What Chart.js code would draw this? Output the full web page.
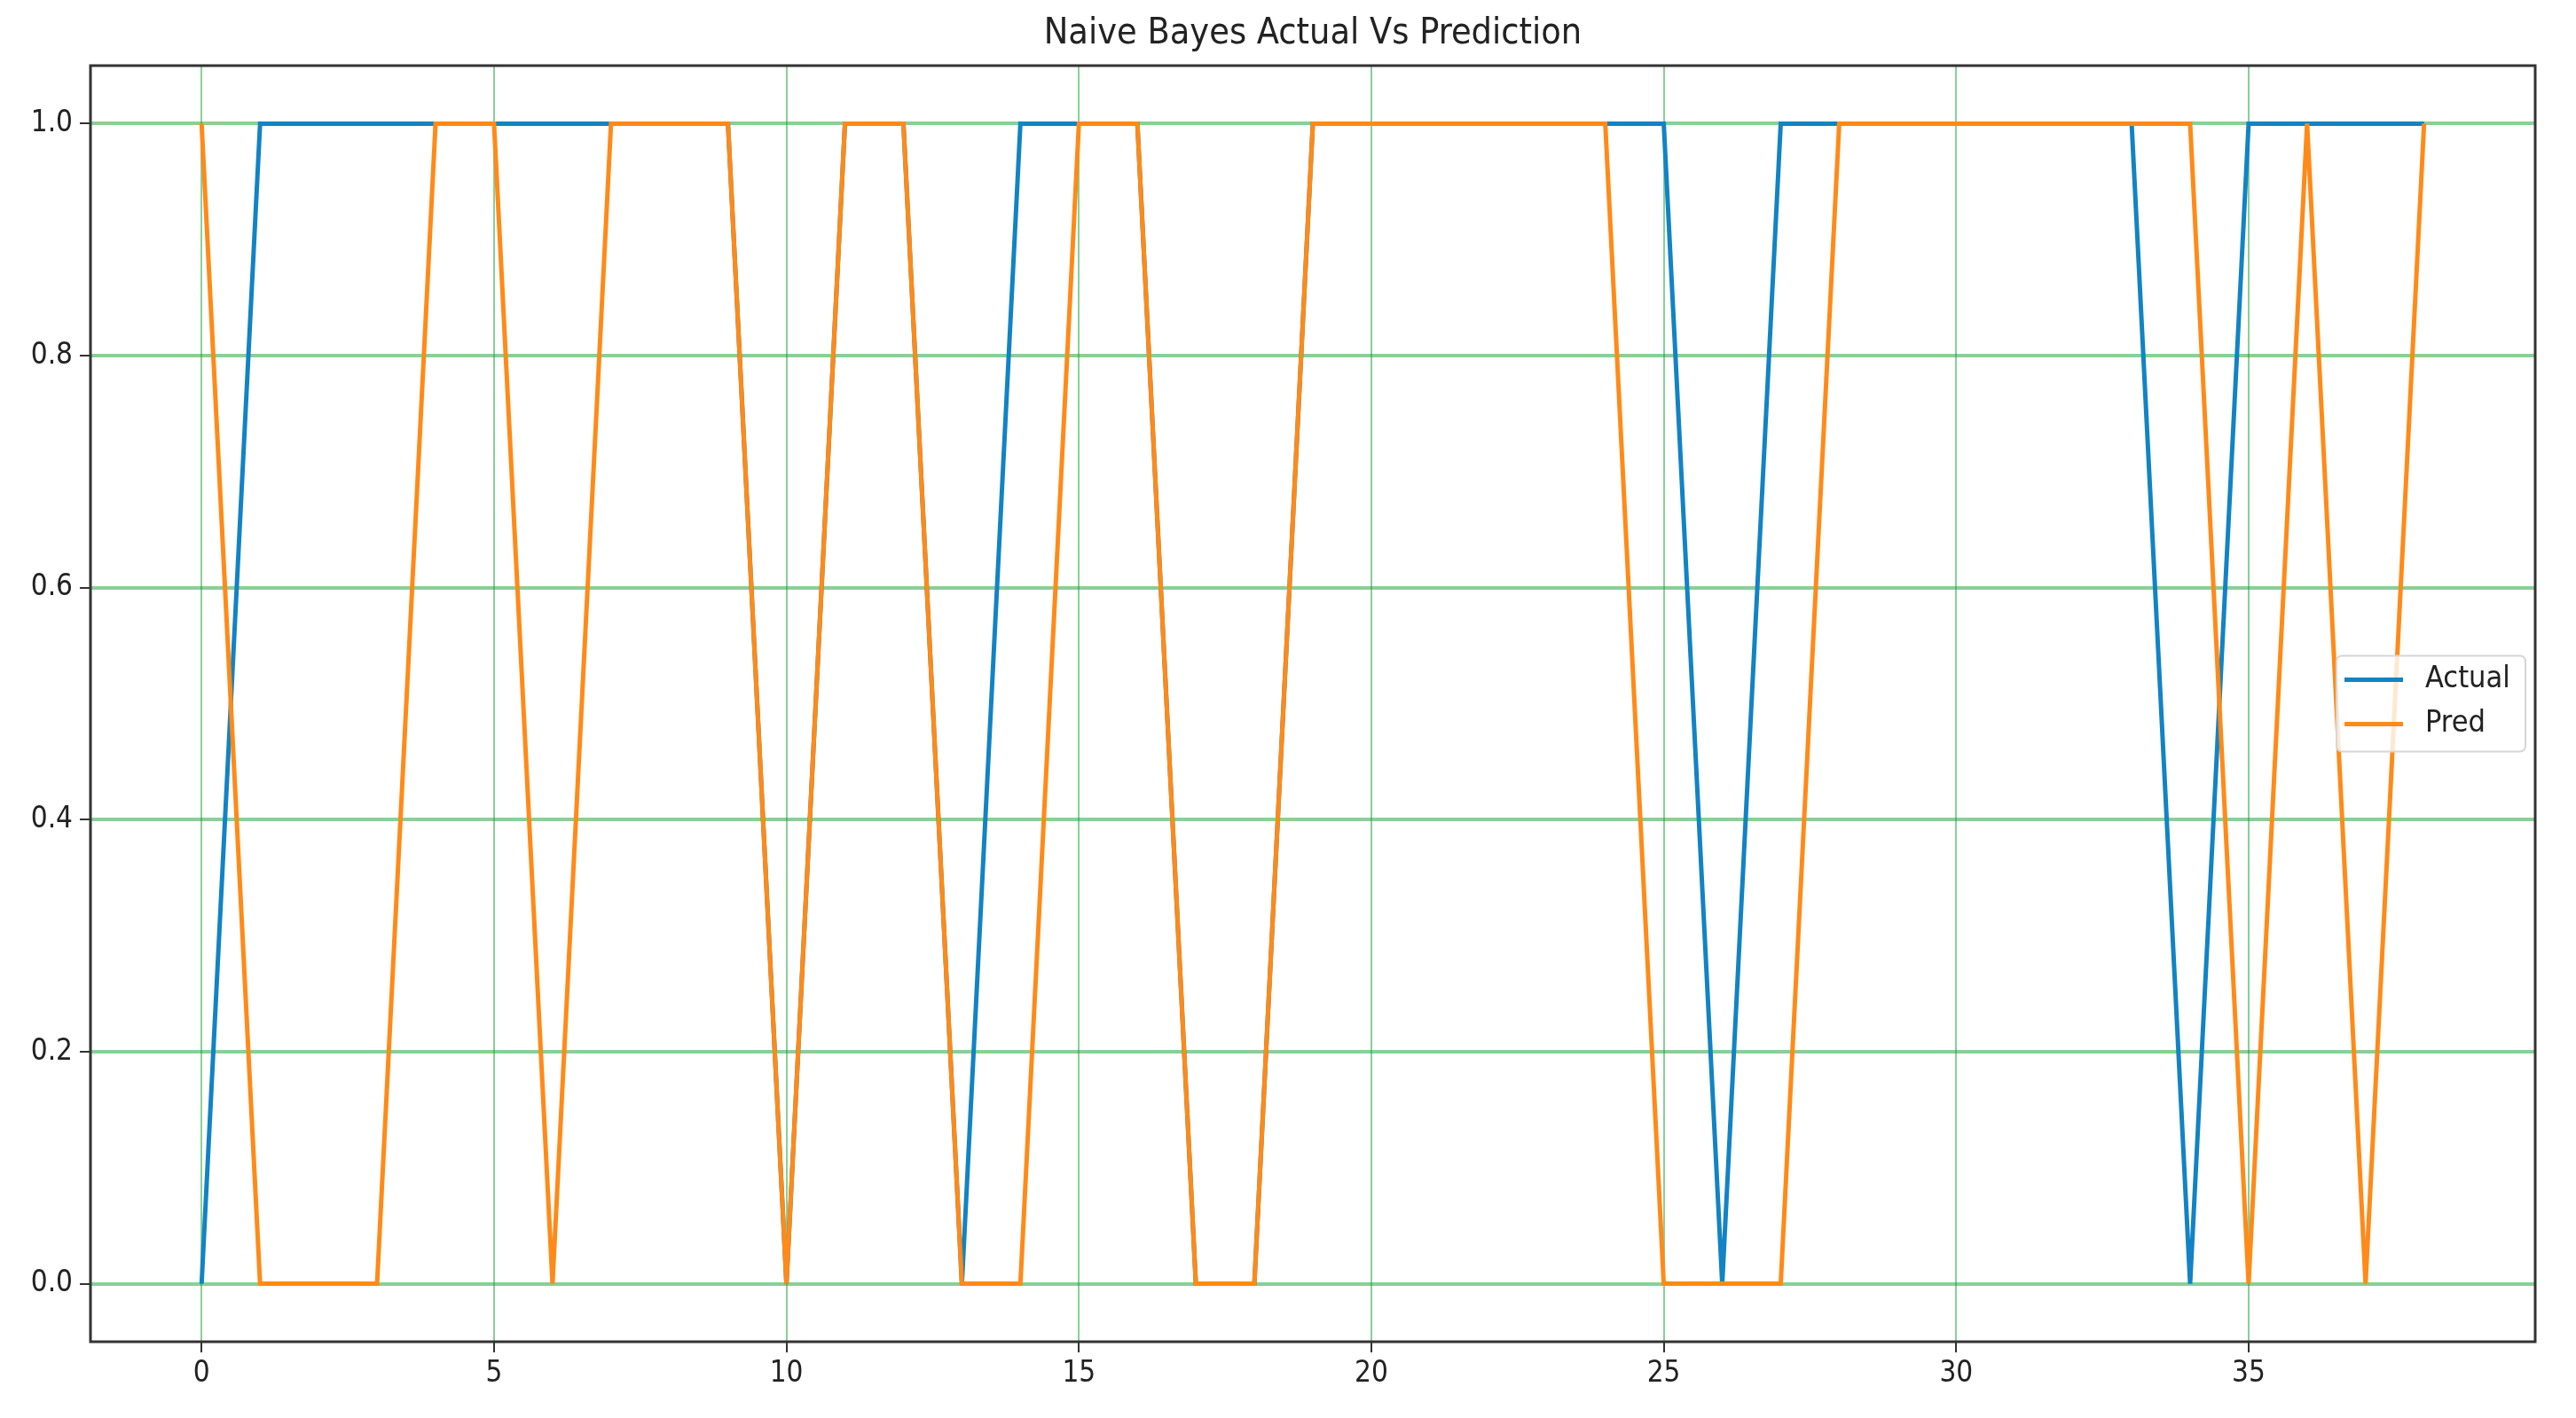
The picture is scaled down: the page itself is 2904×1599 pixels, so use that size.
<!DOCTYPE html>
<html>
<head>
<meta charset="utf-8">
<script src="https://cdn.jsdelivr.net/npm/chart.js@4.4.1/dist/chart.umd.min.js"></script>
<style>
  body { margin: 0; background: #fff; }
  canvas { display: block; }
</style>
</head>
<body>
<canvas id="chart" width="2904" height="1599"></canvas>
<script>
// datos
const indices = Array.from({ length: 39 }, (_, i) => i);
const actual = [0,1,1,1,1,1,1,1,1,1, 0,1,1,0,1,1,1,0,0,1, 1,1,1,1,1,1,0,1,1,1, 1,1,1,1,0,1,1,1,1];
const pred   = [1,0,0,0,1,1,0,1,1,1, 0,1,1,0,0,1,1,0,0,1, 1,1,1,1,1,0,0,0,1,1, 1,1,1,1,1,0,1,0,1];
const xTicks = [0, 5, 10, 15, 20, 25, 30, 35];
const yTicks = [0, 0.2, 0.4, 0.6, 0.8, 1.0];
const seriesNames = ['Actual', 'Pred'];
const titleText = 'Naive Bayes Actual Vs Prediction';

const BLUE = '#1283c4';
const ORANGE = '#ff8a18';
const FONT = "'DejaVu Sans Condensed', 'DejaVu Sans', sans-serif";

// marco del área de trazado (spines) y título centrado sobre el área
const framePlugin = {
    id: 'frame',
    afterDatasetsDraw(chart) {
        const a = chart.chartArea;
        const c = chart.ctx;
        c.save();
        c.strokeStyle = '#333';
        c.lineWidth = 3;
        c.strokeRect(a.left, a.top, a.right - a.left, a.bottom - a.top);
        c.fillStyle = '#222';
        c.font = '41px ' + FONT;
        c.textAlign = 'center';
        c.textBaseline = 'middle';
        c.fillText(titleText, (a.left + a.right) / 2, 38);
        c.restore();
    }
};

// leyenda dentro del gráfico, centro a la derecha
const legendPlugin = {
    id: 'boxLegend',
    afterDraw(chart) {
        const a = chart.chartArea;
        const c = chart.ctx;
        const w = 213, h = 108;
        const x = a.right - 11 - w;
        const y = (a.top + a.bottom) / 2 - h / 2;
        c.save();
        c.fillStyle = 'rgba(255,255,255,0.8)';
        c.strokeStyle = '#d6d6d6';
        c.lineWidth = 2;
        c.beginPath();
        c.roundRect(x, y, w, h, 6);
        c.fill();
        c.stroke();
        const colors = [BLUE, ORANGE];
        c.font = '34px ' + FONT;
        c.textBaseline = 'middle';
        c.fillStyle = '#222';
        seriesNames.forEach((name, i) => {
            const ly = y + 27 + i * 50;
            c.strokeStyle = colors[i];
            c.lineWidth = 5;
            c.beginPath();
            c.moveTo(x + 9, ly);
            c.lineTo(x + 75, ly);
            c.stroke();
            c.fillText(name, x + 100, ly);
        });
        c.restore();
    }
};

const ctx = document.getElementById('chart').getContext('2d');

let chart = new Chart(ctx, {
    type: 'line',
    data: {
        datasets: [{
            label: seriesNames[0],
            data: indices.map((x, i) => ({ x: x, y: actual[i] })),
            borderColor: BLUE,
            borderWidth: 5,
            pointRadius: 0,
            tension: 0,
            order: 1
        }, {
            label: seriesNames[1],
            data: indices.map((x, i) => ({ x: x, y: pred[i] })),
            borderColor: ORANGE,
            borderWidth: 5,
            pointRadius: 0,
            tension: 0,
            order: 0
        }]
    },
    options: {
        responsive: false,
        animation: false,
        devicePixelRatio: 1,
        layout: { padding: { left: 0, right: 46, top: 74, bottom: 0 } },
        plugins: {
            legend: { display: false },
            tooltip: { enabled: false },
            title: { display: false }
        },
        scales: {
            x: {
                type: 'linear',
                min: -1.9,
                max: 39.9,
                afterBuildTicks: (s) => { s.ticks = xTicks.map(v => ({ value: v })); },
                afterFit: (s) => { s.height = 86; },
                border: { display: false },
                grid: {
                    color: 'rgba(20,160,50,0.5)',
                    lineWidth: 2,
                    tickColor: '#333',
                    tickLength: 12,
                    tickWidth: 2
                },
                ticks: {
                    color: '#222',
                    padding: 5,
                    maxRotation: 0,
                    font: { family: FONT, size: 33 },
                    callback: (v) => String(v)
                }
            },
            y: {
                min: -0.05,
                max: 1.05,
                afterBuildTicks: (s) => { s.ticks = yTicks.map(v => ({ value: v })); },
                afterFit: (s) => { s.width = 102; },
                border: { display: false },
                grid: {
                    color: 'rgba(20,160,50,0.5)',
                    lineWidth: 4,
                    tickColor: '#333',
                    tickLength: 12,
                    tickWidth: 2
                },
                ticks: {
                    color: '#222',
                    padding: 8,
                    font: { family: FONT, size: 33 },
                    callback: (v) => Number(v).toFixed(1)
                }
            }
        }
    },
    plugins: [framePlugin, legendPlugin]
});
</script>
</body>
</html>
